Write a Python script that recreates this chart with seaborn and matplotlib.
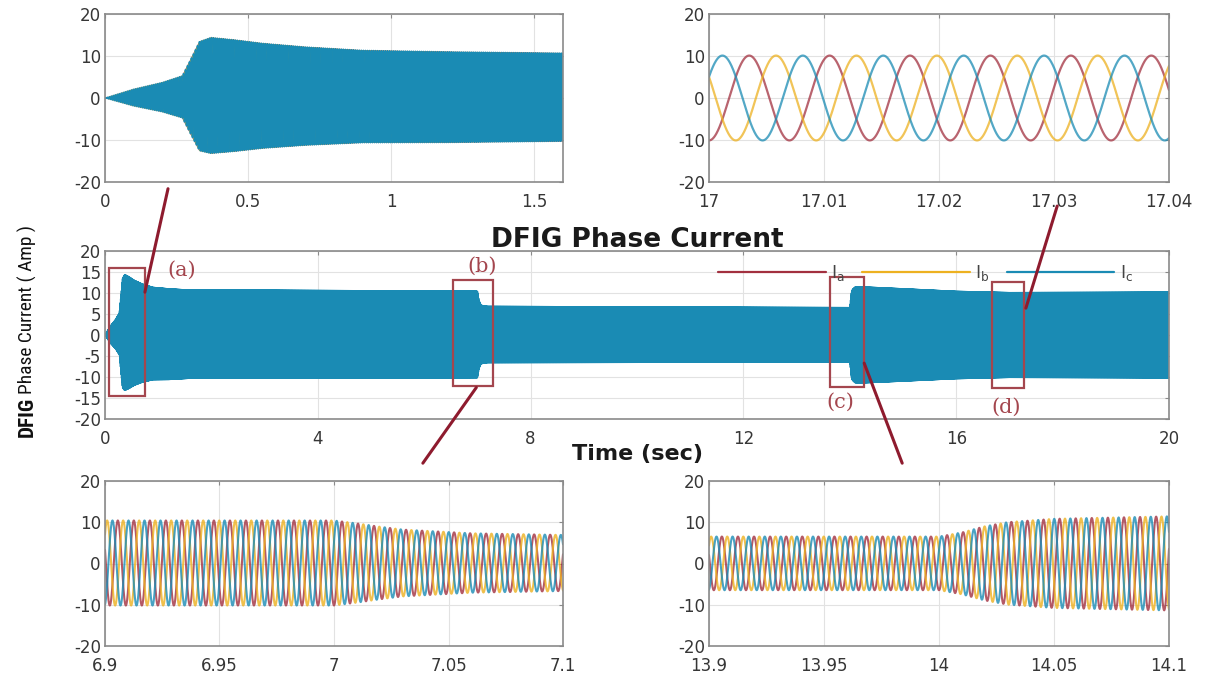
import numpy as np
import pandas as pd
import matplotlib
matplotlib.use("Agg")
import matplotlib.pyplot as plt
import seaborn as sns
from matplotlib.patches import Rectangle, ConnectionPatch
from matplotlib.lines import Line2D
from matplotlib import font_manager

# ---------------- values ----------------
freq_hz = 143.0                     # ~5.7 cycles in the 17-17.04 s window
phase_names = ["Ia", "Ib", "Ic"]
phase_labels = [r"$\mathregular{I_a}$", r"$\mathregular{I_b}$", r"$\mathregular{I_c}$"]
phase_shift_deg = [0, -120, 120]

# current amplitude envelope (A)
env_time = [0.0, 0.10, 0.20, 0.27, 0.30, 0.33, 0.37, 0.45, 0.55, 0.70, 0.90, 1.20, 1.60,
            3.0, 5.0, 7.00, 7.01, 7.02, 7.03, 7.06, 7.10, 7.20, 10.0,
            14.00, 14.01, 14.02, 14.03, 14.05, 14.10, 14.30, 15.0, 16.0, 17.0, 20.0]
env_amp = [0.0, 2.0, 3.5, 5.0, 9.0, 13.0, 13.8, 13.3, 12.5, 11.7, 11.0, 10.8, 10.5,
           10.5, 10.4, 10.3, 9.6, 8.8, 8.1, 7.2, 6.8, 6.7, 6.6,
           6.5, 7.5, 9.0, 10.0, 10.8, 11.4, 11.4, 11.0, 10.4, 10.1, 10.2]
offset_time = [0.0, 0.30, 0.37, 0.60, 1.20, 16.0, 20.0]
offset_amp = [0.0, 0.3, 0.6, 0.5, 0.2, 0.0, 0.0]

# axis windows and tick labels
main_xticks = [0, 4, 8, 12, 16, 20]
main_yticks = [-20, -15, -10, -5, 0, 5, 10, 15, 20]
zoom_yticks = [-20, -10, 0, 10, 20]
tl_xlim, tl_xticks, tl_xlabels = (0, 1.6), [0, 0.5, 1, 1.5], ["0", "0.5", "1", "1.5"]
tr_xlim, tr_xticks, tr_xlabels = (17, 17.04), [17, 17.01, 17.02, 17.03, 17.04], ["17", "17.01", "17.02", "17.03", "17.04"]
bl_xlim, bl_xticks, bl_xlabels = (6.9, 7.1), [6.9, 6.95, 7.0, 7.05, 7.1], ["6.9", "6.95", "7", "7.05", "7.1"]
br_xlim, br_xticks, br_xlabels = (13.9, 14.1), [13.9, 13.95, 14.0, 14.05, 14.1], ["13.9", "13.95", "14", "14.05", "14.1"]

# hand-drawn zoom boxes on the main panel: (t0, t1, ylow, yhigh), label position
box_names = ["(a)", "(b)", "(c)", "(d)"]
box_extents = [(0.08, 0.76, -14.5, 15.9), (6.55, 7.30, -12.2, 13.0),
               (13.62, 14.27, -12.3, 13.8), (16.68, 17.27, -12.5, 12.6)]
box_label_pos = [(1.44, 15.5), (7.08, 16.3), (13.83, -16.1), (16.94, -17.1)]

palette = {"Ia": "#A2303F", "Ib": "#EDB120", "Ic": "#1A8BB4"}


def currents(t):
    amp = np.interp(t, env_time, env_amp)
    off = np.interp(t, offset_time, offset_amp)
    frames = []
    for name, sh in zip(phase_names, phase_shift_deg):
        i = off + amp * np.sin(2 * np.pi * freq_hz * t - np.pi / 2 + np.deg2rad(sh))
        frames.append(pd.DataFrame({"t": t, "i": i, "phase": name}))
    return pd.concat(frames, ignore_index=True)


sns.set_style("white")
plt.rcParams["font.family"] = ["DejaVu Sans"]
plt.rcParams["axes.unicode_minus"] = False

W, H = 1207, 675
fig = plt.figure(figsize=(W / 100, H / 100), dpi=100)


def px_axes(x0, x1, ytop, ybot):
    return fig.add_axes([x0 / W, 1 - ybot / H, (x1 - x0) / W, (ybot - ytop) / H])


ax_tl = px_axes(105, 563, 14, 182)
ax_tr = px_axes(709, 1169, 14, 182)
ax_main = px_axes(105, 1169, 251, 419)
ax_bl = px_axes(105, 563, 481, 646)
ax_br = px_axes(709, 1169, 481, 646)


def draw_phases(ax, t, widths, alpha):
    df = currents(t)
    for name in phase_names:
        sns.lineplot(data=df[df["phase"] == name], x="t", y="i", color=palette[name],
                     estimator=None, sort=False, legend=False, ax=ax,
                     linewidth=widths[name], alpha=alpha)


# ---------------- draw the currents ----------------
draw_phases(ax_main, np.linspace(0, 20, 114401), {"Ia": 0.5, "Ib": 0.5, "Ic": 1.1}, 1.0)

panels = [(ax_tl, tl_xlim, tl_xticks, tl_xlabels, 14000, {"Ia": 0.5, "Ib": 0.5, "Ic": 1.1}, 1.0),
          (ax_tr, tr_xlim, tr_xticks, tr_xlabels, 1500, {"Ia": 1.6, "Ib": 1.6, "Ic": 1.6}, 0.75),
          (ax_bl, bl_xlim, bl_xticks, bl_xlabels, 5000, {"Ia": 1.5, "Ib": 1.5, "Ic": 1.5}, 0.8),
          (ax_br, br_xlim, br_xticks, br_xlabels, 5000, {"Ia": 1.5, "Ib": 1.5, "Ic": 1.5}, 0.8)]
for ax, xl, xt, xlab, n, widths, al in panels:
    draw_phases(ax, np.linspace(xl[0], xl[1], n), widths, al)
    ax.set_xlim(*xl)
    ax.set_xticks(xt)
    ax.set_xticklabels(xlab)
    ax.set_ylim(-20, 20)
    ax.set_yticks(zoom_yticks)
    ax.set_yticklabels([str(v) for v in zoom_yticks])

ax_main.set_xlim(0, 20)
ax_main.set_ylim(-20, 20)
ax_main.set_xticks(main_xticks)
ax_main.set_xticklabels([str(v) for v in main_xticks])
ax_main.set_yticks(main_yticks)
ax_main.set_yticklabels([str(v) for v in main_yticks])

for ax in [ax_tl, ax_tr, ax_main, ax_bl, ax_br]:
    ax.set_xlabel("")
    ax.set_ylabel("")
    ax.grid(True, color="#e2e2e2", lw=0.8)
    ax.set_axisbelow(True)
    for sp in ax.spines.values():
        sp.set_color("#8a8a8a")
        sp.set_linewidth(1.2)
    ax.tick_params(direction="in", length=3, top=True, right=True, color="#8a8a8a",
                   labelcolor="#363636", labelsize=12)
    ax.tick_params(axis="x", pad=8)
    ax.tick_params(axis="y", pad=3)

# ---------------- texts ----------------
ax_main.set_title("DFIG Phase Current", fontsize=19, fontweight="bold", color="#1a1a1a", pad=3)
ax_main.set_xlabel("Time (sec)", fontsize=16, fontweight="bold", color="#1a1a1a", labelpad=-3)

handles = [Line2D([], [], color=palette[p], lw=1.6) for p in phase_names]
ax_main.legend(handles, phase_labels, ncol=3, loc="center right", bbox_to_anchor=(0.966, 0.87),
               frameon=False, handlelength=6.2, handletextpad=0.3, columnspacing=1.0,
               fontsize=12.5, labelcolor="#444444", borderaxespad=0, borderpad=0)

box_color = "#A4464E"
for name, (t0, t1, y0, y1), (lx, ly) in zip(box_names, box_extents, box_label_pos):
    ax_main.add_patch(Rectangle((t0, y0), t1 - t0, y1 - y0, fill=False, ec=box_color,
                                lw=1.6, zorder=5))
    ax_main.text(lx, ly, name, color=box_color, fontfamily="DejaVu Serif", fontsize=15,
                 ha="center", va="center", zorder=6)

link_color = "#8E1B2E"
links = [((0.1376, -0.04), ax_tl.transAxes, (0.75, 10.2), ax_main.transData),
         ((6.98, -12.5), ax_main.transData, (0.694, 1.108), ax_bl.transAxes),
         ((14.27, -6.7), ax_main.transData, (0.42, 1.108), ax_br.transAxes),
         ((0.757, -0.143), ax_tr.transAxes, (17.31, 6.4), ax_main.transData)]
for xyA, cA, xyB, cB in links:
    cp = ConnectionPatch(xyA=xyA, coordsA=cA, xyB=xyB, coordsB=cB, color=link_color, lw=2.2)
    fig.add_artist(cp)


# y label: bold "DFIG" followed by narrow "Phase Current ( Amp )"
def pick_font(names):
    for nm in names:
        try:
            font_manager.findfont(nm, fallback_to_default=False)
            return [nm, "DejaVu Sans"]
        except Exception:
            continue
    return ["DejaVu Sans"]


narrow = pick_font(["Liberation Sans Narrow", "Roboto Condensed", "Roboto"])
renderer = fig.canvas.get_renderer()


def fitted_text(x_px, y_px, s, target_len, size0, **kw):
    t = fig.text(x_px / W, y_px / H, s, rotation=90, rotation_mode="anchor",
                 ha="left", va="center", fontsize=size0, family=narrow, color="#111111", **kw)
    ln = t.get_window_extent(renderer).height
    t.set_fontsize(size0 * target_len / ln)
    return t


t1 = fitted_text(27, H - 437, "DFIG", 40, 16, fontweight="bold")
bb = t1.get_window_extent(renderer)
fitted_text(27, bb.y1 + 3, "Phase Current ( Amp )", 170, 14)

fig.savefig("out.png", dpi=100)
